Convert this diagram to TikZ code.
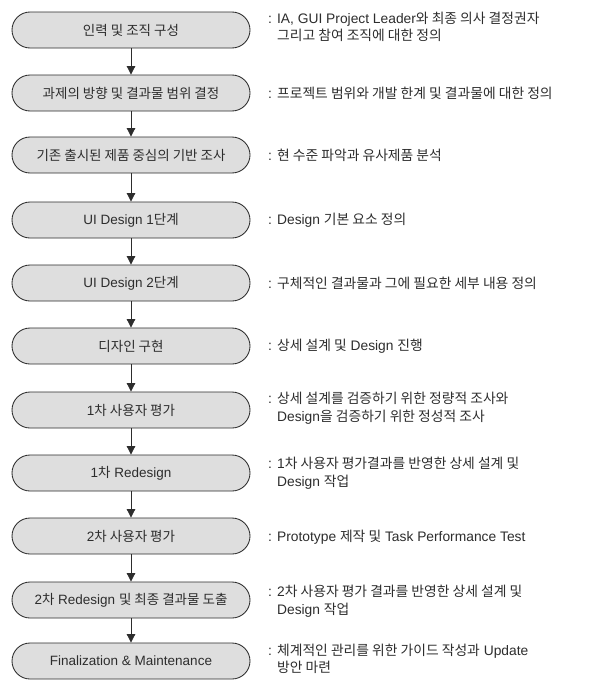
\documentclass[tikz,border=0pt]{standalone}
\usepackage{fontspec}
\setmainfont{Liberation Sans}
\newfontfamily\kr{Noto Sans CJK KR}
\usetikzlibrary{arrows.meta}
\definecolor{boxfill}{RGB}{222,222,222}
\definecolor{boxline}{RGB}{45,45,45}
\definecolor{txt}{RGB}{45,45,45}
\begin{document}
\begin{tikzpicture}[x=1pt,y=-1pt,
  stage/.style={draw=boxline, line width=0.85pt, fill=boxfill, rounded corners=18pt,
    minimum width=238pt, minimum height=36pt, inner sep=0pt,
    font=\fontsize{13.5}{16}\selectfont, text=txt},
  desc/.style={anchor=west, align=left, inner sep=0pt,
    font=\fontsize{13.8}{17.5}\selectfont, text=txt},
  flow/.style={line width=0.85pt, draw=boxline, -{Triangle[length=8.5pt,width=8.5pt]}}]
\useasboundingbox (0,0) rectangle (595,680);
\fill[white] (0,0) rectangle (595,680);

\node[stage] (s1)  at (131,30)  {\kr 인력 및 조직 구성};
\node[stage] (s2)  at (131,93)  {\kr 과제의 방향 및 결과물 범위 결정};
\node[stage] (s3)  at (131,155) {\kr 기존 출시된 제품 중심의 기반 조사};
\node[stage] (s4)  at (131,220) {UI Design 1{\kr 단계}};
\node[stage] (s5)  at (131,283) {UI Design 2{\kr 단계}};
\node[stage] (s6)  at (131,346) {\kr 디자인 구현};
\node[stage] (s7)  at (131,410) {1{\kr 차 사용자 평가}};
\node[stage] (s8)  at (131,473) {1{\kr 차} Redesign};
\node[stage] (s9)  at (131,536) {2{\kr 차 사용자 평가}};
\node[stage] (s10) at (131,600) {2{\kr 차} Redesign {\kr 및 최종 결과물 도출}};
\node[stage] (s11) at (131,661) {Finalization \& Maintenance};

\foreach \a/\b in {s1/s2,s2/s3,s3/s4,s4/s5,s5/s6,s6/s7,s7/s8,s8/s9,s9/s10,s10/s11}
  \draw[flow] (\a.south) -- (\b.north);

\node[desc] (d1)  at (268,27)  {: IA, GUI Project Leader{\kr 와 최종 의사 결정권자}\\\hphantom{: }{\kr 그리고 참여 조직에 대한 정의}};
\node[desc] (d2)  at (268,93)  {: {\kr 프로젝트 범위와 개발 한계 및 결과물에 대한 정의}};
\node[desc] (d3)  at (268,155) {: {\kr 현 수준 파악과 유사제품 분석}};
\node[desc] (d4)  at (268,220) {: Design {\kr 기본 요소 정의}};
\node[desc] (d5)  at (268,283) {: {\kr 구체적인 결과물과 그에 필요한 세부 내용 정의}};
\node[desc] (d6)  at (268,346) {: {\kr 상세 설계 및} Design {\kr 진행}};
\node[desc] (d7)  at (268,408) {: {\kr 상세 설계를 검증하기 위한 정량적 조사와}\\\hphantom{: }Design{\kr 을 검증하기 위한 정성적 조사}};
\node[desc] (d8)  at (268,473) {: 1{\kr 차 사용자 평가결과를 반영한 상세 설계 및}\\\hphantom{: }Design {\kr 작업}};
\node[desc] (d9)  at (268,537) {: Prototype {\kr 제작 및} Task Performance Test};
\node[desc] (d10) at (268,601) {: 2{\kr 차 사용자 평가 결과를 반영한 상세 설계 및}\\\hphantom{: }Design {\kr 작업}};
\node[desc] (d11) at (268,659) {: {\kr 체계적인 관리를 위한 가이드 작성과} Update\\\hphantom{: }{\kr 방안 마련}};
\end{tikzpicture}
\end{document}
